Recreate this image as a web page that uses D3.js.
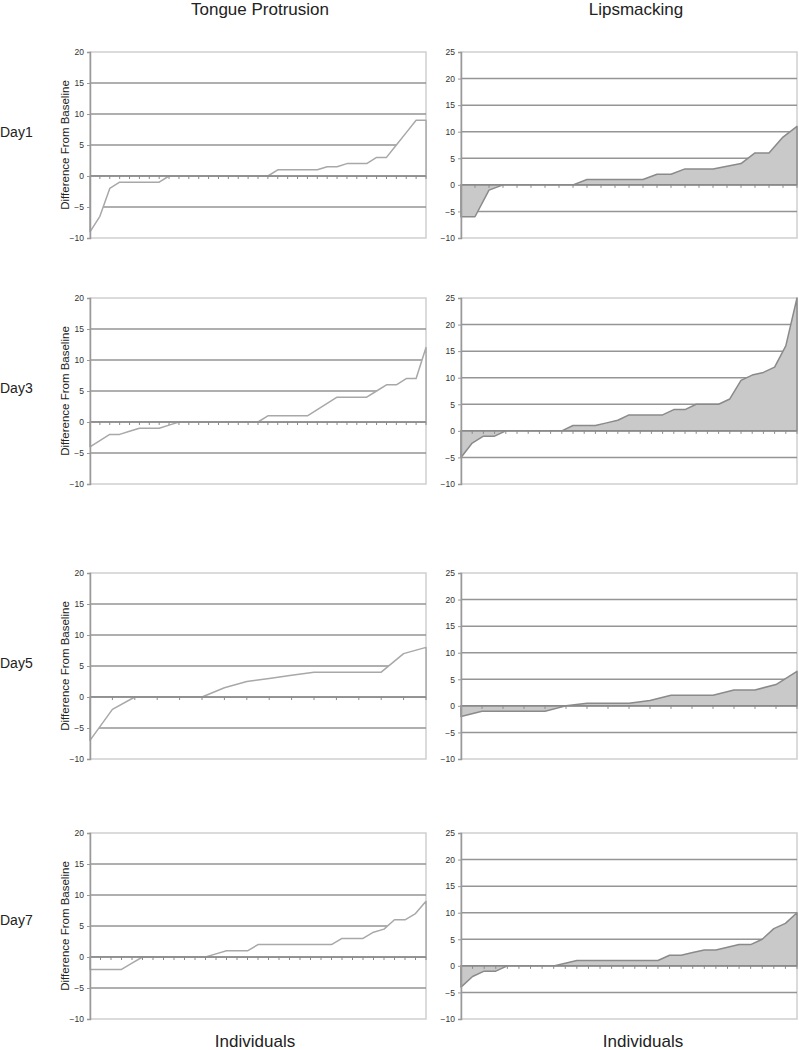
<!DOCTYPE html>
<html>
<head>
<meta charset="utf-8">
<script src="https://cdn.jsdelivr.net/npm/d3@7"></script>
<style>
  body { margin: 0; background: #fff; }
  svg { display: block; font-family: "Liberation Sans", Arial, sans-serif; }
</style>
</head>
<body>
<div id="chart"></div>
<script>
// Column titles and row labels
var columns = ["Tongue Protrusion", "Lipsmacking"];
var days = ["Day1", "Day3", "Day5", "Day7"];

// Tick labels on the value axis
var tongueTicks = [-10, -5, 0, 5, 10, 15, 20];
var lipTicks = [-10, -5, 0, 5, 10, 15, 20, 25];

// Tongue protrusion, sorted difference from baseline per individual
var tongueDay1 = [-9, -6.5, -2, -1, -1, -1, -1, -1, 0, 0, 0, 0, 0, 0, 0, 0, 0, 0, 0,
  1, 1, 1, 1, 1, 1.5, 1.5, 2, 2, 2, 3, 3, 5, 7, 9, 9];
var tongueDay3 = [-4, -3, -2, -2, -1.5, -1, -1, -1, -0.5, 0, 0, 0, 0, 0, 0, 0, 0, 0,
  1, 1, 1, 1, 1, 2, 3, 4, 4, 4, 4, 5, 6, 6, 7, 7, 12];
var tongueDay5 = [-7, -2, 0, 0, 0, 0, 1.5, 2.5, 3, 3.5, 4, 4, 4, 4, 7, 8];
var tongueDay7 = [-2, -2, -2, -2, -1, 0, 0, 0, 0, 0, 0, 0, 0.5, 1, 1, 1, 2, 2, 2, 2,
  2, 2, 2, 2, 3, 3, 3, 4, 4.5, 6, 6, 7, 9];

// Lipsmacking
var lipDay1 = [-6, -6, -1, 0, 0, 0, 0, 0, 0, 1, 1, 1, 1, 1, 2, 2, 3, 3, 3, 3.5, 4,
  6, 6, 9, 11];
var lipDay3 = [-5, -2.3, -1, -1, 0, 0, 0, 0, 0, 0, 1, 1, 1, 1.5, 2, 3, 3, 3, 3, 4, 4,
  5, 5, 5, 6, 9.5, 10.5, 11, 12, 16, 25];
var lipDay5 = [-2, -1, -1, -1, -1, 0, 0.5, 0.5, 0.5, 1, 2, 2, 2, 3, 3, 4, 6.5];
var lipDay7 = [-4, -2, -1, -1, 0, 0, 0, 0, 0, 0.5, 1, 1, 1, 1, 1, 1, 1, 1, 2, 2,
  2.5, 3, 3, 3.5, 4, 4, 5, 7, 8, 10];

var tongueSeries = [tongueDay1, tongueDay3, tongueDay5, tongueDay7];
var lipSeries = [lipDay1, lipDay3, lipDay5, lipDay7];

// Layout
var width = 799, height = 1050;
var colX = [[90, 426], [461, 797]];
var rowTop = [52, 298, 573, 833];
var rowLabelY = [132, 388, 663, 920];
var plotH = 186;

var svg = d3.select("#chart").append("svg")
  .attr("width", width)
  .attr("height", height);

var colTitleX = [260, 636];
columns.forEach(function(c, i) {
  svg.append("text")
    .attr("x", colTitleX[i]).attr("y", 15)
    .attr("text-anchor", "middle")
    .style("font-size", "17px").style("fill", "#222")
    .text(c);
  svg.append("text")
    .attr("x", [255, 643][i]).attr("y", 1047)
    .attr("text-anchor", "middle")
    .style("font-size", "17px").style("fill", "#222")
    .text("Individuals");
});

days.forEach(function(d, r) {
  svg.append("text")
    .attr("x", 0).attr("y", rowLabelY[r])
    .attr("dy", "0.35em")
    .style("font-size", "14px").style("fill", "#222")
    .text(d);
});

var drawPanel = function(values, col, row) {
  var isLip = col === 1;
  var ticks = isLip ? lipTicks : tongueTicks;
  var x0 = colX[col][0], x1 = colX[col][1];
  var y0 = rowTop[row], y1 = rowTop[row] + plotH;

  var x = d3.scaleLinear().domain([0, values.length - 1]).range([x0, x1]);
  var y = d3.scaleLinear().domain([ticks[0], ticks[ticks.length - 1]]).range([y1, y0]);

  var g = svg.append("g");

  // plot border
  g.append("rect")
    .attr("x", x0).attr("y", y0)
    .attr("width", x1 - x0).attr("height", y1 - y0)
    .style("fill", "#fff").style("stroke", "#cfcfcf").style("stroke-width", 1.5);

  // gridlines
  g.selectAll(".grid").data(ticks.slice(1, -1)).enter().append("line")
    .attr("x1", x0).attr("x2", x1)
    .attr("y1", function(d) { return y(d); })
    .attr("y2", function(d) { return y(d); })
    .style("stroke", "#959595").style("stroke-width", 1.5);

  // area
  var area = d3.area()
    .x(function(d, i) { return x(i); })
    .y0(y(0))
    .y1(function(d) { return y(d); });
  g.append("path")
    .datum(values)
    .attr("d", area)
    .style("fill", isLip ? "#c9c9c9" : "#fff")
    .style("stroke", isLip ? "#8a8a8a" : "#a8a8a8")
    .style("stroke-width", 1.5)
    .style("stroke-linejoin", "round");

  // zero axis with category ticks
  g.append("line")
    .attr("x1", x0).attr("x2", x1)
    .attr("y1", y(0)).attr("y2", y(0))
    .style("stroke", "#8a8a8a").style("stroke-width", 1.5);
  g.selectAll(".ctick").data(values.slice(1)).enter().append("line")
    .attr("x1", function(d, i) { return x(i + 1); })
    .attr("x2", function(d, i) { return x(i + 1); })
    .attr("y1", y(0)).attr("y2", y(0) + 3)
    .style("stroke", "#8a8a8a").style("stroke-width", 1);

  // value axis
  var axis = d3.axisLeft(y).tickValues(ticks).tickSize(3).tickPadding(3);
  var ag = g.append("g")
    .attr("transform", "translate(" + x0 + ",0)")
    .call(axis);
  ag.select(".domain").style("stroke", "#999").style("stroke-width", 1.5);
  ag.selectAll(".tick line").style("stroke", "#999");
  ag.selectAll(".tick text")
    .style("font-size", "8.5px").style("fill", "#333")
    .style("font-family", "'Liberation Sans', Arial, sans-serif");

  if (!isLip) {
    g.append("text")
      .attr("transform", "translate(65," + ((y0 + y1) / 2) + ") rotate(-90)")
      .attr("text-anchor", "middle")
      .attr("dy", "0.35em")
      .style("font-size", "11.5px").style("fill", "#222")
      .text("Difference From Baseline");
  }
};

for (var r = 0; r < days.length; r++) {
  drawPanel(tongueSeries[r], 0, r);
  drawPanel(lipSeries[r], 1, r);
}
</script>
</body>
</html>
